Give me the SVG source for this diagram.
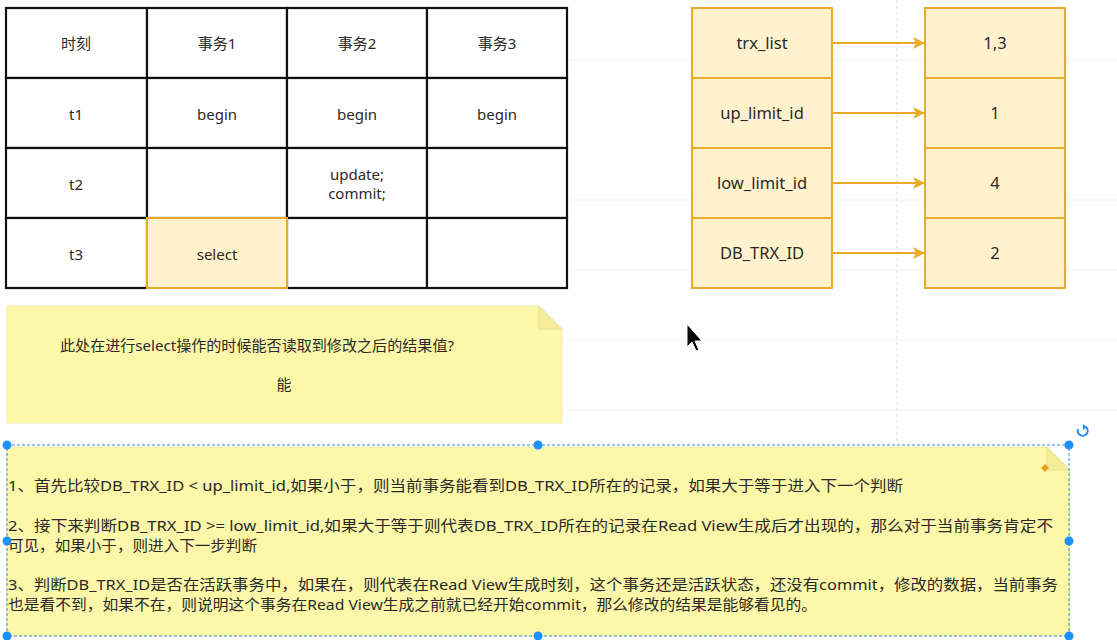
<svg xmlns="http://www.w3.org/2000/svg" width="1117" height="640" viewBox="0 0 1117 640">
<defs>
<style>
text{font-family:"Noto Sans","Noto Sans CJK SC",sans-serif;font-size:15px;fill:#2a2a2a;}
.c{text-anchor:middle;}
.k{font-size:16.5px;}
.cell{fill:#fff;stroke:#111;stroke-width:2.2;}
.hl{fill:#fff2cc;stroke:#e9a92a;stroke-width:2;}
.ob{fill:#fff2cc;stroke:#e9a92a;stroke-width:2;}
.note{fill:#fdf8a9;stroke:#f1ecb0;stroke-width:1;}
.fold{fill:#f4ee9a;stroke:#e6df90;stroke-width:1;}
.grid{stroke:#f0f0f3;stroke-width:1;}
.conn{stroke:#e9a92a;stroke-width:2;fill:none;marker-end:url(#ah);}
.sel{fill:none;stroke:#2f8fde;stroke-width:1;stroke-dasharray:3 2;}
.h{fill:#1e90ff;}
</style>
<marker id="ah" markerWidth="12" markerHeight="12" refX="11" refY="6" orient="auto" markerUnits="userSpaceOnUse">
<path d="M0,0 L12,6 L0,12 L3,6 Z" fill="#e9a92a"/>
</marker>
</defs>
<rect width="1117" height="640" fill="#fff"/>
<g id="grid">
<line class="grid" x1="567" y1="60" x2="1117" y2="60"/>
<line class="grid" x1="567" y1="200" x2="1117" y2="200"/>
<line class="grid" x1="567" y1="270" x2="1117" y2="270"/>
<line class="grid" x1="567" y1="340" x2="1117" y2="340"/>
<line class="grid" x1="567" y1="410" x2="1117" y2="410"/>
<line x1="897" y1="0" x2="897" y2="445" stroke="#dcdcdc" stroke-width="1" stroke-dasharray="3 3"/>
</g>
<g id="table">
<rect class="cell" x="6" y="8" width="141" height="70"/><text class="c" x="76" y="49">时刻</text>
<rect class="cell" x="147" y="8" width="140" height="70"/><text class="c" x="217" y="49">事务1</text>
<rect class="cell" x="287" y="8" width="140" height="70"/><text class="c" x="357" y="49">事务2</text>
<rect class="cell" x="427" y="8" width="140" height="70"/><text class="c" x="497" y="49">事务3</text>
<rect class="cell" x="6" y="78" width="141" height="70"/><text class="c" x="76" y="120">t1</text>
<rect class="cell" x="147" y="78" width="140" height="70"/><text class="c" x="217" y="120">begin</text>
<rect class="cell" x="287" y="78" width="140" height="70"/><text class="c" x="357" y="120">begin</text>
<rect class="cell" x="427" y="78" width="140" height="70"/><text class="c" x="497" y="120">begin</text>
<rect class="cell" x="6" y="148" width="141" height="70"/><text class="c" x="76" y="190">t2</text>
<rect class="cell" x="147" y="148" width="140" height="70"/>
<rect class="cell" x="287" y="148" width="140" height="70"/><text class="c" x="357" y="180">update;</text><text class="c" x="357" y="199">commit;</text>
<rect class="cell" x="427" y="148" width="140" height="70"/>
<rect class="cell" x="6" y="218" width="141" height="70"/><text class="c" x="76" y="260">t3</text>
<rect class="cell" x="287" y="218" width="140" height="70"/>
<rect class="cell" x="427" y="218" width="140" height="70"/>
<rect class="hl" x="147" y="218" width="140" height="70"/><text class="c" x="217" y="260">select</text>
</g>
<g id="n-trx_list"><rect class="ob" x="692" y="8" width="140" height="70"/><text class="c k" x="762" y="49">trx_list</text></g>
<g id="n-up_limit_id"><rect class="ob" x="692" y="78" width="140" height="70"/><text class="c k" x="762" y="119">up_limit_id</text></g>
<g id="n-low_limit_id"><rect class="ob" x="692" y="148" width="140" height="70"/><text class="c k" x="762" y="189">low_limit_id</text></g>
<g id="n-db_trx_id"><rect class="ob" x="692" y="218" width="140" height="70"/><text class="c k" x="762" y="259">DB_TRX_ID</text></g>
<g id="v-13"><rect class="ob" x="925" y="8" width="140" height="70"/><text class="c k" x="995" y="49">1,3</text></g>
<g id="v-1"><rect class="ob" x="925" y="78" width="140" height="70"/><text class="c k" x="995" y="119">1</text></g>
<g id="v-4"><rect class="ob" x="925" y="148" width="140" height="70"/><text class="c k" x="995" y="189">4</text></g>
<g id="v-2"><rect class="ob" x="925" y="218" width="140" height="70"/><text class="c k" x="995" y="259">2</text></g>
<g id="connectors">
<line class="conn" x1="833" y1="43" x2="924" y2="43"/>
<line class="conn" x1="833" y1="113" x2="924" y2="113"/>
<line class="conn" x1="833" y1="183" x2="924" y2="183"/>
<line class="conn" x1="833" y1="253" x2="924" y2="253"/>
</g>
<g id="note1">
<path class="note" d="M7,306 H539 L562,329 V423 H7 Z"/>
<path class="fold" d="M539,306 V329 H562 Z"/>
<text class="c" x="257" y="351" textLength="394" lengthAdjust="spacingAndGlyphs">此处在进行select操作的时候能否读取到修改之后的结果值?</text>
<text class="c" x="284" y="390">能</text>
</g>
<g id="note2">
<path class="note" d="M7,447 H1047 L1070,470 V636 H7 Z"/>
<path class="fold" d="M1047,447 V470 H1070 Z"/>
<text x="8" y="491" textLength="895" lengthAdjust="spacingAndGlyphs">1、首先比较DB_TRX_ID &lt; up_limit_id,如果小于，则当前事务能看到DB_TRX_ID所在的记录，如果大于等于进入下一个判断</text>
<text x="8" y="531" textLength="1045" lengthAdjust="spacingAndGlyphs">2、接下来判断DB_TRX_ID &gt;= low_limit_id,如果大于等于则代表DB_TRX_ID所在的记录在Read View生成后才出现的，那么对于当前事务肯定不</text>
<text x="8" y="551" textLength="249" lengthAdjust="spacingAndGlyphs">可见，如果小于，则进入下一步判断</text>
<text x="8" y="590" textLength="1050" lengthAdjust="spacingAndGlyphs">3、判断DB_TRX_ID是否在活跃事务中，如果在，则代表在Read View生成时刻，这个事务还是活跃状态，还没有commit，修改的数据，当前事务</text>
<text x="8" y="610" textLength="809" lengthAdjust="spacingAndGlyphs">也是看不到，如果不在，则说明这个事务在Read View生成之前就已经开始commit，那么修改的结果是能够看见的。</text>
</g>
<g id="selection">
<rect class="sel" x="7" y="445" width="1062" height="191"/>
<circle class="h" cx="7" cy="445" r="4.5"/><circle class="h" cx="538" cy="445" r="4.5"/><circle class="h" cx="1069" cy="445" r="4.5"/>
<circle class="h" cx="7" cy="541" r="4.5"/><circle class="h" cx="1069" cy="541" r="4.5"/>
<circle class="h" cx="7" cy="636" r="4.5"/><circle class="h" cx="538" cy="636" r="4.5"/><circle class="h" cx="1069" cy="636" r="4.5"/>
<path d="M1086,427 A5,5 0 1 1 1078,429" fill="none" stroke="#1e90ff" stroke-width="2"/>
<path d="M1083,424 L1087,427 L1083,430 Z" fill="#1e90ff"/>
<path d="M1045,464 L1049,468 L1045,472 L1041,468 Z" fill="#f0a020"/>
</g>
<g id="cursor">
<path d="M687,324 L687,347 L692,342 L696,351 L699,350 L695,341 L702,341 Z" fill="#000" stroke="#fff" stroke-width="1"/>
</g>
</svg>
